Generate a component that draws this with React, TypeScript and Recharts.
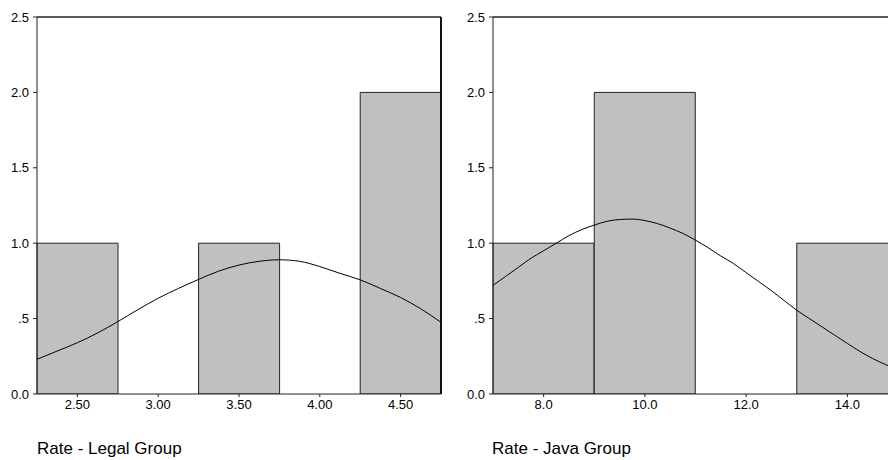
import { Bar, ComposedChart, Line, ReferenceLine, XAxis, YAxis } from "recharts"

// histogram bins + counts
const legalBins = ["2.50", "3.00", "3.50", "4.00", "4.50"]
const legalCounts = [1, 0, 1, 0, 2]
const javaBins = ["8.0", "10.0", "12.0", "14.0"]
const javaCounts = [1, 2, 0, 1]

// fitted normal curves
const legalCurveX = [2.25, 2.375, 2.5, 2.625, 2.75, 2.875, 3.0, 3.125, 3.25, 3.375, 3.5, 3.625, 3.75, 3.875, 4.0, 4.125, 4.25, 4.375, 4.5, 4.625, 4.75]
const legalCurveY = [0.23, 0.285, 0.34, 0.405, 0.48, 0.56, 0.635, 0.7, 0.76, 0.815, 0.855, 0.88, 0.89, 0.88, 0.845, 0.8, 0.757, 0.7, 0.64, 0.565, 0.475]
const javaCurveX = [7.0, 7.25, 7.5, 7.75, 8.0, 8.25, 8.5, 8.75, 9.0, 9.25, 9.5, 9.75, 10.0, 10.25, 10.5, 10.75, 11.0, 11.25, 11.5, 11.75, 12.0, 12.25, 12.5, 12.75, 13.0, 13.25, 13.5, 13.75, 14.0, 14.25, 14.5, 14.75, 15.0]
const javaCurveY = [0.72, 0.78, 0.84, 0.9, 0.95, 1.0, 1.05, 1.09, 1.12, 1.145, 1.157, 1.16, 1.15, 1.13, 1.1, 1.065, 1.02, 0.97, 0.915, 0.865, 0.805, 0.745, 0.685, 0.62, 0.555, 0.5, 0.445, 0.39, 0.335, 0.282, 0.235, 0.196, 0.16]

const yTicks = [0, 0.5, 1, 1.5, 2, 2.5]
const yTickLabels = ["0.0", ".5", "1.0", "1.5", "2.0", "2.5"]

const legalTitle = "Rate - Legal Group"
const javaTitle = "Rate - Java Group"

const font = "'Liberation Sans', Arial, sans-serif"
const tickStyle = { fontSize: 13, fill: "#000", fontFamily: font }

function Histogram({ bins, counts, curveX, curveY, domain, width, yWidth, marginRight }: {
  bins: string[]
  counts: number[]
  curveX: number[]
  curveY: number[]
  domain: [number, number]
  width: number
  yWidth: number
  marginRight: number
}) {
  const barData = bins.map((b, i) => ({ bin: b, count: counts[i] }))
  const curveData = curveX.map((x, i) => ({ x, y: curveY[i] }))
  return (
    <ComposedChart
      width={width}
      height={460}
      data={barData}
      margin={{ top: 17, right: marginRight, bottom: 36, left: 0 }}
      barCategoryGap={0}
      barGap={0}
    >
      <XAxis
        xAxisId="bins"
        dataKey="bin"
        type="category"
        height={30}
        tickSize={3}
        tickMargin={3}
        tick={tickStyle}
        stroke="#222"
        interval={0}
      />
      <XAxis xAxisId="num" dataKey="x" type="number" domain={domain} allowDataOverflow hide />
      <YAxis
        width={yWidth}
        domain={[0, 2.5]}
        ticks={yTicks}
        tickFormatter={(v: number) => yTickLabels[yTicks.indexOf(v)] ?? String(v)}
        tickSize={4}
        tickMargin={4}
        tick={tickStyle}
        stroke="#222"
        allowDataOverflow
      />
      <Bar xAxisId="bins" dataKey="count" fill="#c0c0c0" stroke="#222" strokeWidth={1} isAnimationActive={false} />
      <Line
        xAxisId="num"
        data={curveData}
        dataKey="y"
        type="monotone"
        stroke="#000"
        strokeWidth={1}
        dot={false}
        activeDot={false}
        isAnimationActive={false}
      />
      <ReferenceLine xAxisId="num" y={2.5} stroke="#222" strokeWidth={1.3} />
      <ReferenceLine xAxisId="num" x={domain[1]} stroke="#111" strokeWidth={2} />
    </ComposedChart>
  )
}

export default function App() {
  const titleStyle = {
    position: "absolute" as const,
    top: 440,
    fontSize: 17,
    lineHeight: "17px",
    fontFamily: font,
    color: "#000",
    whiteSpace: "nowrap" as const,
  }
  return (
    <div style={{ position: "fixed", left: 0, top: 0, width: 888, height: 460, overflow: "hidden", background: "#fff" }}>
      <div style={{ position: "absolute", left: 0, top: 0 }}>
        <Histogram
          bins={legalBins}
          counts={legalCounts}
          curveX={legalCurveX}
          curveY={legalCurveY}
          domain={[2.25, 4.75]}
          width={446}
          yWidth={37}
          marginRight={5}
        />
      </div>
      <div style={{ position: "absolute", left: 446, top: 0 }}>
        <Histogram
          bins={javaBins}
          counts={javaCounts}
          curveX={javaCurveX}
          curveY={javaCurveY}
          domain={[7, 15]}
          width={455}
          yWidth={47}
          marginRight={3}
        />
      </div>
      <div style={{ ...titleStyle, left: 37 }}>{legalTitle}</div>
      <div style={{ ...titleStyle, left: 492 }}>{javaTitle}</div>
    </div>
  )
}
